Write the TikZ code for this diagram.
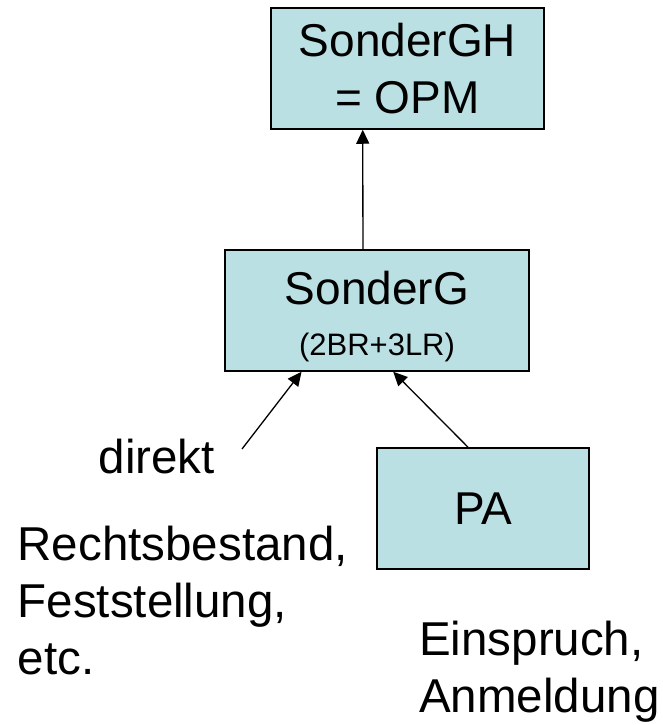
\documentclass[tikz,border=0pt]{standalone}
\usepackage{fontspec}
\setmainfont{Liberation Sans}
\usetikzlibrary{arrows.meta,calc}
\definecolor{boxfill}{HTML}{BBE0E3}
\begin{document}
\begin{tikzpicture}[x=1pt,y=-1pt,
  bigfont/.style={font=\fontsize{46}{57}\selectfont},
  labelfont/.style={font=\fontsize{47.5}{57}\selectfont},
  boxnode/.style={draw=black,line width=1.5pt,fill=boxfill,rectangle,
    inner sep=0pt,align=center,bigfont,minimum height=121pt},
  plaintext/.style={inner sep=0pt,labelfont},
  arr/.style={line width=1.3pt,-{Triangle[length=14pt,width=13pt]}}]
\useasboundingbox (0,0) rectangle (663,725);

% boxes
\node[boxnode,minimum width=273pt] (gh) at (407.5,68.5) {SonderGH\\= OPM};
\node[boxnode,minimum width=304pt] (sg) at (377,310.5)
  {\rule{0pt}{45pt}SonderG\\[-6pt]{\fontsize{31}{36}\selectfont (2BR+3LR)}};
\node[boxnode,minimum width=212pt] (pa) at (483,508.5) {PA};

% labels
\node[plaintext,anchor=base west] (direkt) at (98.5,473) {direkt};
\node[plaintext,anchor=north west,align=left] (rb) at (17.5,525.5)
  {Rechtsbestand,\\Feststellung,\\etc.};
\node[plaintext,anchor=north west,align=left] (ea) at (419,620.5)
  {Einspruch,\\Anmeldung};

\coordinate (dtail) at (242,449);

% connectors
\draw[arr] ($(sg.north west)!0.454!(sg.north east)$) -- ($(gh.south west)!0.337!(gh.south east)$);
\draw[arr] (dtail) -- ($(sg.south west)!0.253!(sg.south east)$);
\draw[arr] ($(pa.north west)!0.43!(pa.north east)$) -- ($(sg.south west)!0.553!(sg.south east)$);
\end{tikzpicture}
\end{document}
